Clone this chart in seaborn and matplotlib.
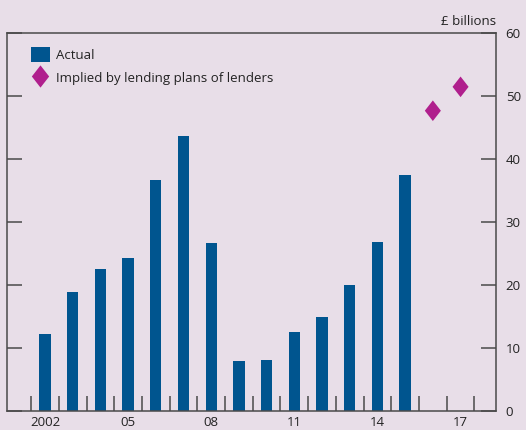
import numpy as np
import pandas as pd
import matplotlib
matplotlib.use("Agg")
import matplotlib.pyplot as plt
from matplotlib.path import Path
from matplotlib.lines import Line2D
from matplotlib.patches import Patch
import seaborn as sns

# ---------- DATA ----------
years_actual = [2002, 2003, 2004, 2005, 2006, 2007, 2008, 2009,
                2010, 2011, 2012, 2013, 2014, 2015]
actual = [12.1, 18.9, 22.5, 24.2, 36.6, 43.7, 26.7, 7.8,
          8.1, 12.5, 14.9, 19.9, 26.8, 37.4]

years_implied = [2016, 2017]
implied = [47.7, 51.5]

tick_years = [2002, 2005, 2008, 2011, 2014, 2017]
tick_labels = ["2002", "05", "08", "11", "14", "17"]

bg = "#e8dee8"
blue = "#00558f"
magenta = "#b01f8d"
dark = "#4a4a4a"

# ---------- PLOT ----------
sns.set_style("white")
plt.rcParams["font.family"] = ["Open Sans", "DejaVu Sans"]

fig = plt.figure(figsize=(5.26, 4.30), dpi=100, facecolor=bg)
ax = fig.add_axes([0.0133, 0.0453, 0.9297, 0.877])
ax.set_facecolor(bg)

df_a = pd.DataFrame({"year": years_actual, "value": actual})
df_i = pd.DataFrame({"year": years_implied, "value": implied})

sns.barplot(data=df_a, x="year", y="value", native_scale=True,
            color=blue, width=0.41, saturation=1, ax=ax, linewidth=0)

# tall diamond marker
diamond = Path([(0, 1), (0.78, 0), (0, -1), (-0.78, 0), (0, 1)],
               [Path.MOVETO, Path.LINETO, Path.LINETO, Path.LINETO, Path.CLOSEPOLY])
sns.scatterplot(data=df_i, x="year", y="value", marker=diamond, s=220,
                color=magenta, edgecolor="none", ax=ax, zorder=3)

ax.set_xlim(2000.63, 2018.28)
ax.set_ylim(0, 60)
ax.set_xlabel("")
ax.set_ylabel("")

# x ticks: labels at years, tick marks at year boundaries
ax.set_xticks(tick_years)
ax.set_xticklabels(tick_labels)
ax.set_xticks(np.arange(2001.5, 2018, 1.0), minor=True)
ax.tick_params(axis="x", which="major", length=0, pad=4, labelsize=9.5, colors="#222222")
ax.tick_params(axis="x", which="minor", direction="in", length=11, width=1.1,
               color=dark, bottom=True)

# y ticks on both sides, labels on right
ax.set_yticks(range(0, 61, 10))
ax.tick_params(axis="y", left=True, right=True, labelleft=False, labelright=True,
               direction="in", length=10.5, width=1.1, color=dark, pad=7,
               labelsize=9.5, labelcolor="#222222")

for s in ax.spines.values():
    s.set_visible(True)
    s.set_color(dark)
    s.set_linewidth(1.1)

ax.text(1.0, 1.015, "£ billions", transform=ax.transAxes, ha="right", va="bottom",
        fontsize=9.5, color="#222222")

handles = [
    Patch(facecolor=blue, edgecolor="none", label="Actual"),
    Line2D([], [], marker=diamond, linestyle="none", markersize=16,
           markerfacecolor=magenta, markeredgecolor="none",
           label="Implied by lending plans of lenders"),
]
ax.legend(handles=handles, loc="upper left", bbox_to_anchor=(0.025, 0.995),
          frameon=False, fontsize=9.5, handlelength=1.4, handleheight=1.4,
          handletextpad=0.5, labelspacing=0.6, labelcolor="#222222")

fig.savefig("out.png", dpi=100, facecolor=bg)
